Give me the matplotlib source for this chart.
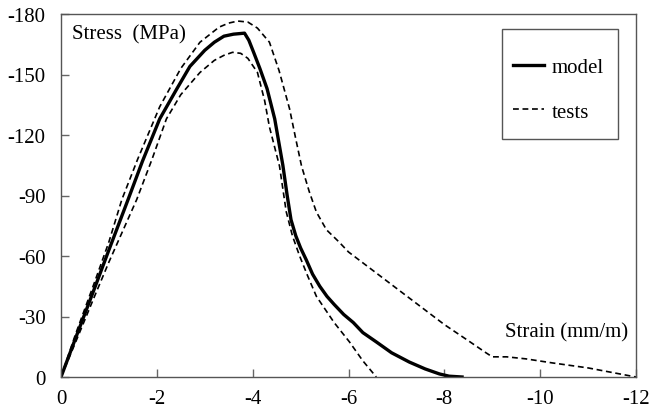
import matplotlib
matplotlib.use("Agg")
import matplotlib.pyplot as plt
from matplotlib.patches import Rectangle

plt.rcParams['font.family'] = ['Liberation Serif', 'DejaVu Serif']
plt.rcParams['axes.unicode_minus'] = False

# model curve
model_x = [0, -0.3, -0.7, -1.0, -1.4, -1.7, -2.06, -2.42, -2.69, -3.0, -3.2, -3.4, -3.6, -3.83,
           -3.92, -4.02, -4.15, -4.3, -4.46, -4.63, -4.72, -4.8, -4.9, -5.0, -5.12, -5.25,
           -5.4, -5.55, -5.7, -5.9, -6.1, -6.3, -6.58, -6.9, -7.27, -7.6, -7.9, -8.1, -8.37]
model_y = [0, -19, -44, -63, -88, -107, -128, -143, -154, -162, -166, -169, -170, -170.5,
           -167, -161, -153, -143, -128, -105, -90, -78, -70, -64, -58, -51,
           -45, -40, -36, -31, -27, -22, -17.4, -12, -7.4, -4, -1.5, -0.4, 0]

# tests, upper bound
upper_x = [0, -0.3, -0.7, -1.0, -1.27, -1.6, -2.06, -2.5, -2.9, -3.3, -3.5, -3.69, -3.9, -4.1,
           -4.35, -4.55, -4.77, -4.9, -5.02, -5.18, -5.33, -5.54, -5.8, -6.0, -6.5, -7.0, -7.5,
           -8.0, -8.5, -8.87, -9.0, -9.3, -9.7, -10.25, -11.0, -12.0]
upper_y = [0, -21, -47, -67, -88, -108, -134, -153, -166, -173.5, -175.5, -176.5, -176, -173,
           -166, -152, -133, -118, -104.6, -92, -81.8, -73, -67, -62, -53, -44, -35,
           -26, -18, -12, -10, -10, -9, -7, -4.5, 0]

# tests, lower bound
lower_x = [0, -0.3, -0.7, -1.0, -1.58, -1.9, -2.2, -2.5, -2.9, -3.2, -3.4, -3.58, -3.75, -3.9, -4.1,
           -4.25, -4.35, -4.56, -4.7, -4.83, -4.98, -5.15, -5.33, -5.7, -6.02, -6.3, -6.58]
lower_y = [0, -17, -40, -57, -88, -108, -128, -140, -151, -157, -159.5, -161, -160.5, -158, -151,
           -137, -124, -104.6, -82, -70, -60, -50, -40, -27, -17.4, -8, 0]

fig = plt.figure(figsize=(6.53, 4.10), dpi=100)
ax = fig.add_axes([61/653, 32/410, 575/653, 363/410])

ax.plot(model_x, model_y, color='black', lw=2.4, label='model')
ax.plot(upper_x, upper_y, color='black', lw=1.2, dashes=(3.5, 2.2), label='tests')
ax.plot(lower_x, lower_y, color='black', lw=1.2, dashes=(3.5, 2.2))

ax.set_xlim(0, -12)
ax.set_ylim(0, -180)
ax.set_xticks([0, -2, -4, -6, -8, -10, -12])
ax.set_yticks([0, -30, -60, -90, -120, -150, -180])
ax.tick_params(direction='in', length=6, width=1, color='#666666',
               labelsize=15)
ax.tick_params(axis='x', pad=9)
ax.tick_params(axis='y', pad=11)
for s in ax.spines.values():
    s.set_color('#555555')
    s.set_linewidth(1)

ax.text(0.019, 0.945, 'Stress  (MPa)', transform=ax.transAxes, fontsize=15,
        ha='left', va='center')
ax.text(0.986, 0.124, 'Strain (mm/m)', transform=ax.transAxes, fontsize=15,
        ha='right', va='center')

# legend box drawn by hand, entries from legend without frame
ax.add_patch(Rectangle((0.767, 0.656), 0.2017, 0.303, transform=ax.transAxes,
                       fill=True, facecolor='white', edgecolor='#555555',
                       lw=1, zorder=4))
leg = ax.legend(loc='upper left', bbox_to_anchor=(0.786, 0.880), fontsize=15,
                frameon=False, handlelength=1.5, handletextpad=0.35,
                labelspacing=1.2, borderpad=0, borderaxespad=0)
leg.set_zorder(5)

fig.savefig('out.png', dpi=100)
